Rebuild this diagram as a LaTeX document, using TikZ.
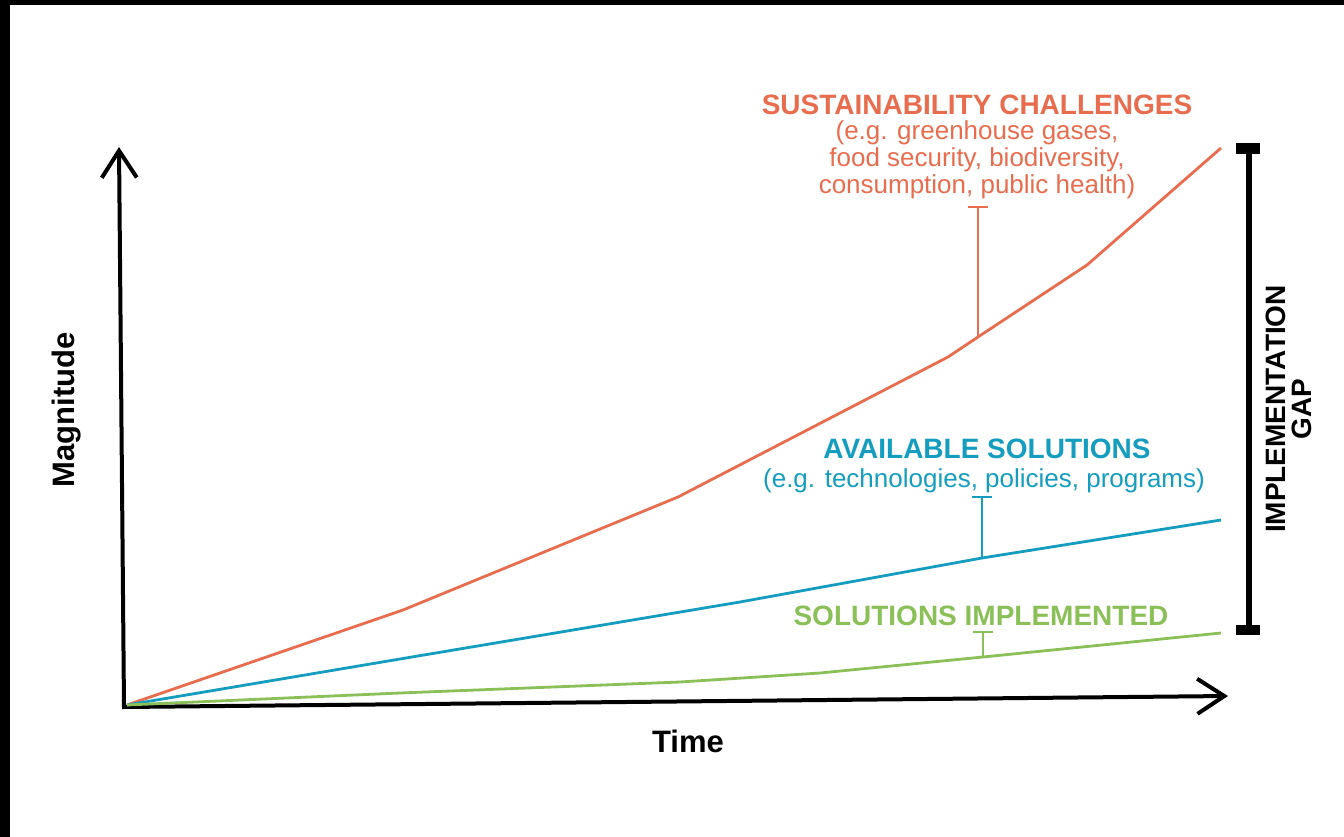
\documentclass[tikz,border=0pt]{standalone}
\usepackage{fontspec}
\setmainfont{Liberation Sans}
\usetikzlibrary{arrows.meta}
\definecolor{cred}{RGB}{232,108,78}
\definecolor{cblue}{RGB}{20,157,190}
\definecolor{cgreen}{RGB}{139,191,88}
\tikzset{
  axis/.style={line width=4pt, line join=miter,
    {Straight Barb[length=27pt,width=35pt]}-{Straight Barb[length=27pt,width=35pt]}},
  series/.style={line width=2.8pt, line join=round},
  bracket/.style={line width=2.8pt},
  ttl/.style={inner sep=0pt, font=\fontsize{28}{30}\selectfont\bfseries},
  sub/.style={inner sep=0pt, align=center, font=\fontsize{26}{27}\selectfont},
  axlabel/.style={inner sep=0pt, font=\fontsize{31}{32}\selectfont\bfseries},
}
\begin{document}
\begin{tikzpicture}[x=1pt,y=-1pt]
\useasboundingbox (0,0) rectangle (1344,837);
\fill[black] (0,0) rectangle (1344,5);
\fill[black] (0,0) rectangle (10,837);

% axes
\coordinate (O) at (124,707);
\coordinate (Ytip) at (119,147);
\coordinate (Xtip) at (1228,696);
\draw[axis] (Ytip) -- (O) -- (Xtip);

% series start
\coordinate (S) at (127,705);

% red
\coordinate (r1) at (403,610);
\coordinate (r2) at (678,497);
\coordinate (r3) at (948,357);
\coordinate (rb) at (978,337);
\coordinate (r4) at (1087,265);
\coordinate (r5) at (1221,148);
\draw[series, cred] (S) -- (r1) -- (r2) -- (r3) -- (rb) -- (r4) -- (r5);
\coordinate (rt) at (978,207);
\coordinate (rtl) at (968,207);
\coordinate (rtr) at (988,207);
\draw[bracket, cred] (rb) -- (rt);
\draw[bracket, cred] (rtl) -- (rtr);

% blue
\coordinate (b1) at (400,659);
\coordinate (b2) at (740,602);
\coordinate (bb) at (982,558);
\coordinate (b3) at (1221,520);
\draw[series, cblue] (S) -- (b1) -- (b2) -- (bb) -- (b3);
\coordinate (bt) at (982,497);
\coordinate (btl) at (972,497);
\coordinate (btr) at (992,497);
\draw[bracket, cblue] (bb) -- (bt);
\draw[bracket, cblue] (btl) -- (btr);

% green
\coordinate (g1) at (400,693);
\coordinate (g2) at (680,682);
\coordinate (g3) at (820,673);
\coordinate (gb) at (983,657);
\coordinate (g4) at (1221,633);
\draw[series, cgreen] (S) -- (g1) -- (g2) -- (g3) -- (gb) -- (g4);
\coordinate (gt) at (983,632);
\coordinate (gtl) at (973,632);
\coordinate (gtr) at (993,632);
\draw[bracket, cgreen] (gb) -- (gt);
\draw[bracket, cgreen] (gtl) -- (gtr);

% labels
\node[ttl, text=cred, anchor=base] (t1) at (977,115) {SUSTAINABILITY CHALLENGES};
\node[sub, text=cred, anchor=north] (s1) at (977,120) {(e.g. greenhouse gases,\\food security, biodiversity,\\consumption, public health)};
\node[ttl, text=cblue, anchor=base] (t2) at (987,458) {AVAILABLE SOLUTIONS};
\node[sub, text=cblue, anchor=north] (s2) at (984,468) {(e.g. technologies, policies, programs)};
\node[ttl, text=cgreen, anchor=base] (t3) at (981,625) {SOLUTIONS IMPLEMENTED};

\node[axlabel, rotate=90] (ylab) at (67,410) {Magnitude};
\node[axlabel, anchor=base] (xlab) at (688,752) {Time};

% implementation gap
\coordinate (gapt) at (1249,149);
\coordinate (gapb) at (1249,630);
\draw[line width=6pt] (gapt) -- (gapb);
\fill (1236,143) rectangle (1260,154);
\fill (1236,625) rectangle (1260,635);
\node[inner sep=0pt, rotate=90, align=center, font=\fontsize{28}{26.5}\selectfont\bfseries] (gap) at (1289,409) {IMPLEMENTATION\\GAP};
\end{tikzpicture}
\end{document}
